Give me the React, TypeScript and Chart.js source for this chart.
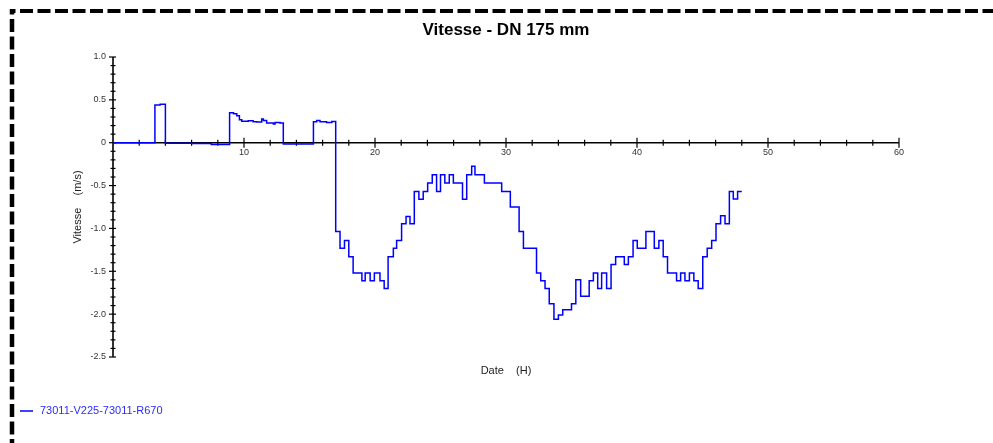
import React, { useEffect, useRef } from 'react';
import { Chart, registerables } from 'chart.js';

Chart.register(...registerables);

const chartTitle = 'Vitesse - DN 175 mm';
const xAxisTitle = 'Date    (H)';
const yAxisTitle = 'Vitesse    (m/s)';
const seriesName = '73011-V225-73011-R670';

// step start times (hours) and the speed (m/s) held from that time on
const hours = [
  0.0, 3.2, 3.6, 4.0, 6.0, 7.5, 8.9, 9.2, 9.45, 9.65, 9.83, 10.33, 10.7, 10.97, 11.35, 11.48,
  11.73, 12.24, 12.37, 12.75, 13.0, 15.3, 15.55, 15.8, 16.3, 16.7,
  17.0, 17.33, 17.67, 18.0, 18.33, 19.0, 19.25, 19.63, 19.95, 20.38, 20.7, 21.0, 21.4, 21.65,
  22.03, 22.37, 22.67, 23.0, 23.35, 23.68, 24.02, 24.37, 24.7, 25.0, 25.33, 25.67, 25.98,
  26.68, 27.0, 27.38, 27.63, 28.35, 29.67, 30.33, 31.0, 31.33, 32.33, 32.65, 32.98, 33.3,
  33.66, 34.0, 34.33, 35.0, 35.33, 35.7, 36.35, 36.67, 37.0, 37.3, 37.68, 38.02, 38.37,
  39.03, 39.34, 39.7, 40.02, 40.68, 41.32, 41.67, 42.0, 42.33, 43.02, 43.33, 43.66, 44.0,
  44.34, 44.67, 45.02, 45.36, 45.7, 46.03, 46.38, 46.72, 47.05, 47.35, 47.68, 48.0,
];
const speeds = [
  0.0, 0.44, 0.45, -0.005, -0.01, -0.02, 0.35, 0.338, 0.315, 0.268, 0.249, 0.257, 0.245, 0.241, 0.276, 0.26,
  0.23, 0.218, 0.237, 0.23, -0.016, 0.245, 0.26, 0.245, 0.237, 0.247,
  -1.035, -1.23, -1.14, -1.33, -1.52, -1.61, -1.52, -1.61, -1.52, -1.61, -1.7, -1.33, -1.23, -1.14,
  -0.945, -0.86, -0.945, -0.57, -0.66, -0.57, -0.47, -0.375, -0.57, -0.375, -0.47, -0.375, -0.47,
  -0.66, -0.375, -0.276, -0.375, -0.47, -0.57, -0.75, -1.035, -1.23, -1.52, -1.61, -1.7, -1.88,
  -2.06, -2.01, -1.95, -1.88, -1.6, -1.79, -1.61, -1.52, -1.7, -1.52, -1.7, -1.42, -1.33,
  -1.42, -1.33, -1.14, -1.23, -1.035, -1.23, -1.14, -1.33, -1.52, -1.61, -1.52, -1.61, -1.52,
  -1.61, -1.7, -1.33, -1.23, -1.14, -0.945, -0.852, -0.945, -0.568, -0.657, -0.568, -0.568,
];

const xTickValues = [10, 20, 30, 40, 50, 60];
const xTickLabels = ['10', '20', '30', '40', '50', '60'];
const yTickValues = [1.0, 0.5, 0, -0.5, -1.0, -1.5, -2.0, -2.5];
const yTickLabels = ['1.0', '0.5', '0', '-0.5', '-1.0', '-1.5', '-2.0', '-2.5'];
const xMin = 0;
const xMax = 60;
const yMin = -2.5;
const yMax = 1.0;
const xMinorStep = 2;
const yMinorStep = 0.1;

const FONT = '"Liberation Sans", Arial, sans-serif';

const decorPlugin = {
  id: 'decor',
  beforeDatasetsDraw(chart: any) {
    const { ctx, chartArea, scales } = chart;
    const x = scales.x;
    const y = scales.y;
    const x0 = x.getPixelForValue(0);
    const y0 = y.getPixelForValue(0);
    ctx.save();
    ctx.strokeStyle = '#000';
    ctx.lineWidth = 1.6;
    ctx.beginPath();
    ctx.moveTo(x0, y.getPixelForValue(yMax));
    ctx.lineTo(x0, y.getPixelForValue(yMin));
    ctx.stroke();
    ctx.beginPath();
    ctx.moveTo(x.getPixelForValue(xMin), y0);
    ctx.lineTo(x.getPixelForValue(xMax), y0);
    ctx.stroke();

    // x ticks (crossing the axis)
    ctx.lineWidth = 1.2;
    const nx = Math.round((xMax - xMin) / xMinorStep);
    for (let i = 1; i <= nx; i++) {
      const v = xMin + i * xMinorStep;
      const px = x.getPixelForValue(v);
      const major = xTickValues.includes(v);
      const len = major ? 5 : 3;
      ctx.beginPath();
      ctx.moveTo(px, y0 - len);
      ctx.lineTo(px, y0 + len);
      ctx.stroke();
    }
    // y ticks
    const ny = Math.round((yMax - yMin) / yMinorStep);
    for (let i = 0; i <= ny; i++) {
      const v = Math.round((yMin + i * yMinorStep) * 10) / 10;
      const py = y.getPixelForValue(v);
      const major = yTickValues.some((t) => Math.abs(t - v) < 1e-6);
      const len = major ? 4 : 2.5;
      ctx.beginPath();
      ctx.moveTo(x0 - len, py);
      ctx.lineTo(x0 + len - (major ? 1 : 0), py);
      ctx.stroke();
    }

    // tick labels
    ctx.fillStyle = '#333';
    ctx.font = `9px ${FONT}`;
    ctx.textAlign = 'center';
    ctx.textBaseline = 'middle';
    xTickValues.forEach((v, i) => {
      ctx.fillText(xTickLabels[i], x.getPixelForValue(v), y0 + 10);
    });
    ctx.textAlign = 'right';
    yTickValues.forEach((v, i) => {
      ctx.fillText(yTickLabels[i], x0 - 7, y.getPixelForValue(v));
    });

    // title
    const cx = (chartArea.left + chartArea.right) / 2;
    ctx.fillStyle = '#000';
    ctx.font = `bold 17px ${FONT}`;
    ctx.textAlign = 'center';
    ctx.fillText(chartTitle, cx, 30);

    // axis titles
    ctx.fillStyle = '#222';
    ctx.font = `11px ${FONT}`;
    ctx.fillText(xAxisTitle, cx, 370.5);
    ctx.save();
    ctx.translate(78, (chartArea.top + chartArea.bottom) / 2);
    ctx.rotate(-Math.PI / 2);
    ctx.fillText(yAxisTitle, 0, 0);
    ctx.restore();

    // legend
    ctx.strokeStyle = '#0000ff';
    ctx.lineWidth = 1.5;
    ctx.beginPath();
    ctx.moveTo(20, 411);
    ctx.lineTo(33, 411);
    ctx.stroke();
    ctx.fillStyle = '#2b2bff';
    ctx.textAlign = 'left';
    ctx.fillText(seriesName, 40, 411);
    ctx.restore();
  },
  afterDraw(chart: any) {
    const { ctx } = chart;
    ctx.save();
    ctx.strokeStyle = '#000';
    ctx.lineWidth = 4;
    ctx.setLineDash([13, 4.5]);
    ctx.lineDashOffset = 7.5;
    ctx.beginPath();
    ctx.moveTo(10, 11);
    ctx.lineTo(993, 11);
    ctx.stroke();
    ctx.lineWidth = 4.5;
    ctx.beginPath();
    ctx.moveTo(12, 9);
    ctx.lineTo(12, 443);
    ctx.stroke();
    ctx.restore();
  },
};

export default function App() {
  const canvasRef = useRef<HTMLCanvasElement>(null);

  useEffect(() => {
    if (!canvasRef.current) return;
    const points = hours.map((h, i) => ({ x: h, y: speeds[i] }));
    const chart = new Chart(canvasRef.current, {
      type: 'line',
      data: {
        datasets: [
          {
            label: seriesName,
            data: points,
            stepped: 'before',
            borderColor: '#0000ff',
            borderWidth: 1.5,
            pointRadius: 0,
            fill: false,
          },
        ],
      },
      options: {
        responsive: false,
        animation: false,
        devicePixelRatio: 1,
        layout: { padding: { left: 113, right: 94, top: 57, bottom: 86 } },
        plugins: {
          legend: { display: false },
          title: { display: false },
          tooltip: { enabled: false },
        },
        scales: {
          x: { type: 'linear', min: xMin, max: xMax, display: false },
          y: { type: 'linear', min: yMin, max: yMax, display: false },
        },
      },
      plugins: [decorPlugin],
    } as any);
    return () => chart.destroy();
  }, []);

  return (
    <div style={{ position: 'fixed', left: 0, top: 0, width: 993, height: 443, background: '#fff' }}>
      <canvas ref={canvasRef} width={993} height={443} style={{ display: 'block' }} />
    </div>
  );
}
